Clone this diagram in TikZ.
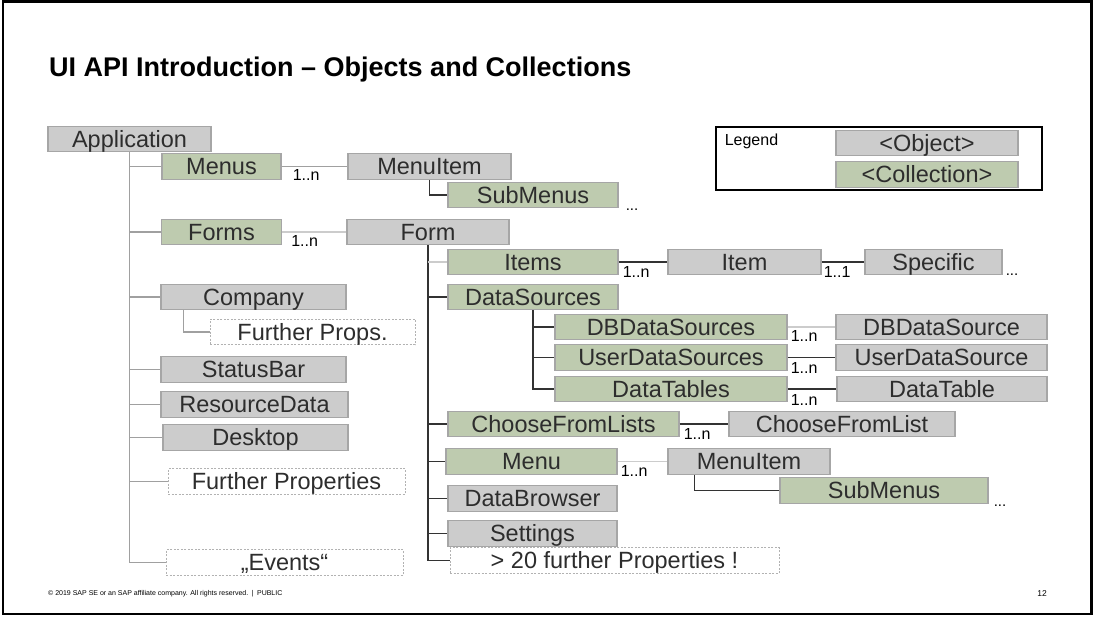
\documentclass[tikz,border=0pt]{standalone}
\usepackage{fontspec}
\setmainfont{Liberation Sans}
\usepackage{tikz}
\definecolor{objectGray}{RGB}{204,204,204}
\definecolor{collectionGreen}{RGB}{190,203,175}
\definecolor{boxBorder}{RGB}{166,166,166}
\definecolor{textGray}{RGB}{45,45,45}
\definecolor{treeGray}{RGB}{160,160,160}
\tikzstyle{object} = [rectangle, 
minimum height=25.5pt,
inner sep=0pt,
text height=16.8pt,
text depth=0pt,
text centered, 
line width=1.2pt,
draw=boxBorder, 
fill=objectGray,
text=textGray,
font=\fontsize{23.5}{24}\selectfont]
\tikzstyle{collection} = [object, 
fill=collectionGreen]
\tikzstyle{further} = [object, 
fill=white, 
draw=black!30,
line width=0.8pt,
dash pattern=on 2pt off 1.5pt]
\tikzstyle{count} = [inner sep=0pt, anchor=north west, font=\fontsize{16}{16}\selectfont]
\tikzstyle{more} = [inner sep=0pt, anchor=base west, font=\fontsize{15}{15}\selectfont]
\tikzstyle{branch} = [line width=1.2pt, treeGray]
\tikzstyle{link} = [line width=1.2pt, black!80]
\tikzstyle{faint} = [line width=1.2pt, black!20]

\begin{document}
\begin{tikzpicture}[x=1pt, y=-1pt, node distance=35pt]
\useasboundingbox (0,0) rectangle (1096,620);
\draw [line width=2.5pt] (3,1.5) rectangle (1091.5,614);

\node (title) [anchor=base west, inner sep=0pt, font=\fontsize{27}{27}\selectfont\bfseries] at (49,77) {UI API Introduction – Objects and Collections};

% legend
\node (legendText) [inner sep=0pt, font=\fontsize{16}{16}\selectfont] at (751.5,141.5) {Legend};
\node (legendBox) [rectangle, draw=black, line width=1.2pt, minimum width=326, minimum height=63, right of=legendText, xshift=92.5, yshift=-17] {};
\node (objKey) [object, minimum width=182, right of=legendText, xshift=140.5, yshift=-1.5] {<Object>};
\node (colKey) [collection, minimum width=182, below of=objKey, yshift=3.5] {<Collection>};

% application tree
\node (app) [object, minimum width=163] at (129.5,139) {Application};
\node (menus) [collection, minimum width=119, below of=app, xshift=92, yshift=7.5] {Menus};
\node (menuItem) [object, minimum width=163, right of=menus, xshift=173] {MenuItem};
\node (subMenus) [collection, minimum width=170, below of=menuItem, xshift=103.5, yshift=6.5] {SubMenus};
\node (forms) [collection, minimum width=120, below of=menus, yshift=-30.5] {Forms};
\node (form) [object, minimum width=162, right of=forms, xshift=171.5] {Form};
\node (company) [object, minimum width=185, below of=forms, xshift=32, yshift=-30] {Company};
\node (furtherProps) [further, minimum width=205, below of=company, xshift=59] {Further Props.};
\node (statusBar) [object, minimum width=185, below of=company, yshift=-37.5] {StatusBar};
\node (resourceData) [object, minimum width=187, below of=statusBar, xshift=1] {ResourceData};
\node (desktop) [object, minimum width=185, below of=resourceData, xshift=1, yshift=2] {Desktop};
\node (furtherProperties) [further, minimum width=237, below of=desktop, xshift=31, yshift=-9] {Further Properties};
\node (events) [further, minimum width=237, below of=furtherProperties, xshift=-2, yshift=-46] {„Events“};

% form tree
\node (items) [collection, minimum width=170, below of=form, xshift=105, yshift=5] {Items};
\node (item) [object, minimum width=153, right of=items, xshift=176.5] {Item};
\node (specific) [object, minimum width=137, right of=item, xshift=154] {Specific};
\node (dataSources) [collection, minimum width=170, below of=items] {DataSources};
\node (dbSources) [collection, minimum width=232, below of=dataSources, xshift=138, yshift=5] {DBDataSources};
\node (dbSource) [object, minimum width=211, right of=dbSources, xshift=235.5] {DBDataSource};
\node (userSources) [collection, minimum width=232, below of=dbSources, yshift=4.5] {UserDataSources};
\node (userSource) [object, minimum width=211, right of=userSources, xshift=235.5] {UserDataSource};
\node (dataTables) [collection, minimum width=232, below of=userSources, yshift=3.5] {DataTables};
\node (dataTable) [object, minimum width=210, right of=dataTables, xshift=236] {DataTable};
\node (chooseLists) [collection, minimum width=231, below of=dataTables, xshift=-107.5] {ChooseFromLists};
\node (chooseList) [object, minimum width=226, right of=chooseLists, xshift=243.5] {ChooseFromList};
\node (menu) [collection, minimum width=171, below of=chooseLists, xshift=-32, yshift=-2.5] {Menu};
\node (formMenuItem) [object, minimum width=162, right of=menu, xshift=182.5] {MenuItem};
\node (formSubMenus) [collection, minimum width=208, below of=formMenuItem, xshift=135, yshift=6] {SubMenus};
\node (dataBrowser) [object, minimum width=169, below of=menu, xshift=1, yshift=-2] {DataBrowser};
\node (settings) [object, minimum width=169, below of=dataBrowser] {Settings};
\node (moreProps) [further, minimum width=329, below of=settings, xshift=82, yshift=8] {> 20 further Properties !};

% multiplicities
\node (menusCount) [count] at ([xshift=11pt, yshift=-3pt]menus.east) {1..n};
\node (formsCount) [count] at ([xshift=9pt, yshift=-3pt]forms.east) {1..n};
\node (itemsCount) [count] at ([xshift=4pt, yshift=-4pt]items.east) {1..n};
\node (specificCount) [count] at ([xshift=2pt, yshift=-4pt]item.east) {1..1};
\node (dbCount) [count] at ([xshift=3pt, yshift=-3pt]dbSources.east) {1..n};
\node (userCount) [count] at ([xshift=3pt, yshift=-5pt]userSources.east) {1..n};
\node (tablesCount) [count] at ([xshift=3pt, yshift=-5pt]dataTables.east) {1..n};
\node (chooseCount) [count] at ([xshift=4pt, yshift=-4pt]chooseLists.east) {1..n};
\node (menuCount) [count] at ([xshift=3pt, yshift=-4pt]menu.east) {1..n};
\node (subMenusMore) [more] at ([xshift=7pt, yshift=-2pt]subMenus.south east) {...};
\node (specificMore) [more] at ([xshift=3pt]specific.south east) {...};
\node (formSubMenusMore) [more] at ([xshift=5pt, yshift=-3pt]formSubMenus.south east) {...};

% footer
\node (copyright) [anchor=west, inner sep=0pt, font=\fontsize{7}{7}\selectfont] at (48,594) {© 2019 SAP SE or an SAP affiliate company. All rights reserved.\enspace|\enspace PUBLIC};
\node (pageNo) [anchor=east, inner sep=0pt, font=\fontsize{8.5}{9}\selectfont] at (1047,594) {12};

\draw [branch] (app.south) |- (events.west);
\foreach \n in {menus, forms, company, statusBar, resourceData, desktop, furtherProperties}
  \draw [branch] (app.south |- \n.west) -- (\n.west);
\draw [branch] ([xshift=23pt]company.south west) |- (furtherProps.west);
\draw [branch] (menus) -- (menuItem);
\draw [faint] (forms) -- (form);
\draw [link] (menuItem.south) |- (subMenus.west);

\draw [link] (form.south) |- (moreProps.west);
\foreach \n in {dataSources, chooseLists, menu, dataBrowser, settings}
  \draw [link] (form.south |- \n.west) -- (\n.west);
\draw [faint] (form.south |- items.west) -- (items.west);
\draw [link] (dataSources.south) |- (dataTables.west);
\foreach \n in {dbSources, userSources}
  \draw [link] (dataSources.south |- \n.west) -- (\n.west);
\draw [link] (items) -- (item);
\draw [link] (item) -- (specific);
\draw [faint] (dbSources) -- (dbSource);
\draw [link] (userSources) -- (userSource);
\draw [link] (dataTables) -- (dataTable);
\draw [link] (chooseLists) -- (chooseList);
\draw [faint] (menu) -- (formMenuItem);
\draw [link] ([xshift=27pt]formMenuItem.south west) |- (formSubMenus.west);
\end{tikzpicture}
\end{document}
